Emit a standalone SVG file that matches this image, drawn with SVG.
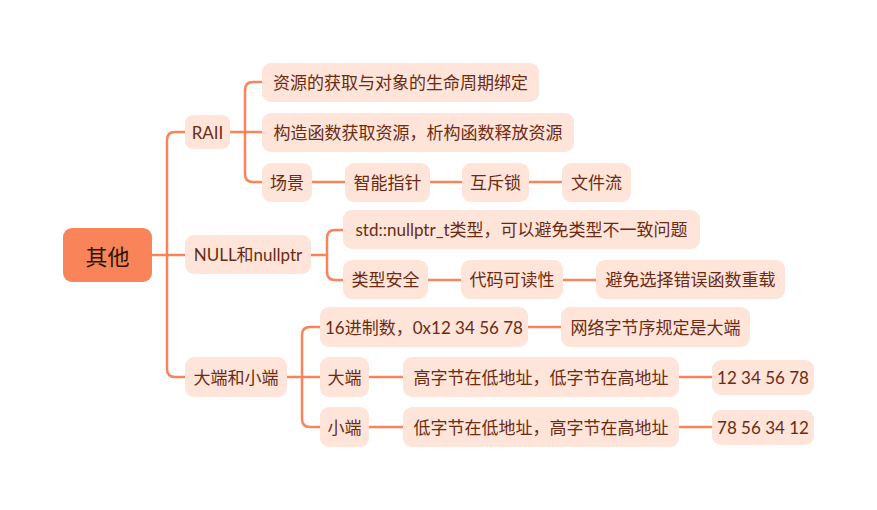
<svg xmlns="http://www.w3.org/2000/svg" width="877" height="510" viewBox="0 0 877 510">
<style>
.n rect{fill:#FEE4D9;}
.n text{font-family:"Lato","Noto Sans CJK SC",sans-serif;font-size:17px;fill:#6B2B12;text-anchor:middle;dominant-baseline:central;}
.r rect{fill:#F9845A;}
.r text{font-family:"Noto Sans CJK SC",sans-serif;font-size:22px;fill:#2E1408;text-anchor:middle;dominant-baseline:central;}
.c path{fill:none;stroke:#F9845A;stroke-width:2.5;stroke-linecap:round;}
</style>
<rect width="877" height="510" fill="#ffffff"/>
<g class="c" id="connectors">
<path d="M152 255H185"/>
<path d="M185 132H175Q167 132 167 140V369Q167 377 175 377H185"/>
<path d="M230 132H262"/>
<path d="M262 82H253Q245 82 245 90V174Q245 182 253 182H262"/>
<path d="M312 182H345M430 182H462M529 182H562"/>
<path d="M311 255H327"/>
<path d="M343 230H335Q327 230 327 238V272Q327 280 335 280H343"/>
<path d="M428 280H461M563 280H596"/>
<path d="M287 377H320"/>
<path d="M320 327H310Q302 327 302 335V419Q302 427 310 427H320"/>
<path d="M528 327H561"/>
<path d="M369 377H403M679 377H712"/>
<path d="M369 427H403M679 427H712"/>
</g>
<g class="r" id="root"><rect x="63" y="228" width="89" height="54" rx="9"/><text x="107.5" y="255">其他</text></g>
<g class="n" id="raii"><rect x="185" y="115" width="45" height="34" rx="8"/><text x="207.5" y="132">RAII</text></g>
<g class="n" id="raii1"><rect x="262" y="63" width="277" height="39" rx="9"/><text x="400.5" y="82">资源的获取与对象的生命周期绑定</text></g>
<g class="n" id="raii2"><rect x="262" y="113" width="312" height="39" rx="9"/><text x="418" y="132">构造函数获取资源，析构函数释放资源</text></g>
<g class="n" id="scene"><rect x="262" y="163" width="50" height="39" rx="9"/><text x="287" y="182">场景</text></g>
<g class="n" id="smartptr"><rect x="345" y="163" width="85" height="39" rx="9"/><text x="387.5" y="182">智能指针</text></g>
<g class="n" id="mutex"><rect x="462" y="163" width="67" height="39" rx="9"/><text x="495.5" y="182">互斥锁</text></g>
<g class="n" id="fstream"><rect x="562" y="163" width="69" height="39" rx="9"/><text x="596.5" y="182">文件流</text></g>
<g class="n" id="null"><rect x="185" y="235" width="126" height="39" rx="9"/><text x="248" y="254.5">NULL和nullptr</text></g>
<g class="n" id="null1"><rect x="343" y="210" width="357" height="39" rx="9"/><text x="521.5" y="229.5">std::nullptr_t类型，可以避免类型不一致问题</text></g>
<g class="n" id="typesafe"><rect x="343" y="260" width="85" height="39" rx="9"/><text x="385.5" y="279.5">类型安全</text></g>
<g class="n" id="readable"><rect x="461" y="260" width="102" height="39" rx="9"/><text x="512" y="279.5">代码可读性</text></g>
<g class="n" id="overload"><rect x="596" y="260" width="189" height="39" rx="9"/><text x="690.5" y="279.5">避免选择错误函数重载</text></g>
<g class="n" id="endian"><rect x="185" y="357" width="102" height="40" rx="9"/><text x="236" y="377">大端和小端</text></g>
<g class="n" id="hex"><rect x="320" y="307" width="208" height="40" rx="9"/><text x="424" y="327">16进制数，0x12 34 56 78</text></g>
<g class="n" id="network"><rect x="561" y="307" width="189" height="40" rx="9"/><text x="655.5" y="327">网络字节序规定是大端</text></g>
<g class="n" id="big"><rect x="320" y="357" width="49" height="40" rx="9"/><text x="344.5" y="377">大端</text></g>
<g class="n" id="big1"><rect x="403" y="357" width="276" height="40" rx="9"/><text x="541" y="377">高字节在低地址，低字节在高地址</text></g>
<g class="n" id="big2"><rect x="712" y="360" width="102" height="35" rx="9"/><text x="763" y="377.5">12 34 56 78</text></g>
<g class="n" id="little"><rect x="320" y="407" width="49" height="40" rx="9"/><text x="344.5" y="427">小端</text></g>
<g class="n" id="little1"><rect x="403" y="407" width="276" height="40" rx="9"/><text x="541" y="427">低字节在低地址，高字节在高地址</text></g>
<g class="n" id="little2"><rect x="712" y="410" width="102" height="35" rx="9"/><text x="763" y="427.5">78 56 34 12</text></g>
</svg>
